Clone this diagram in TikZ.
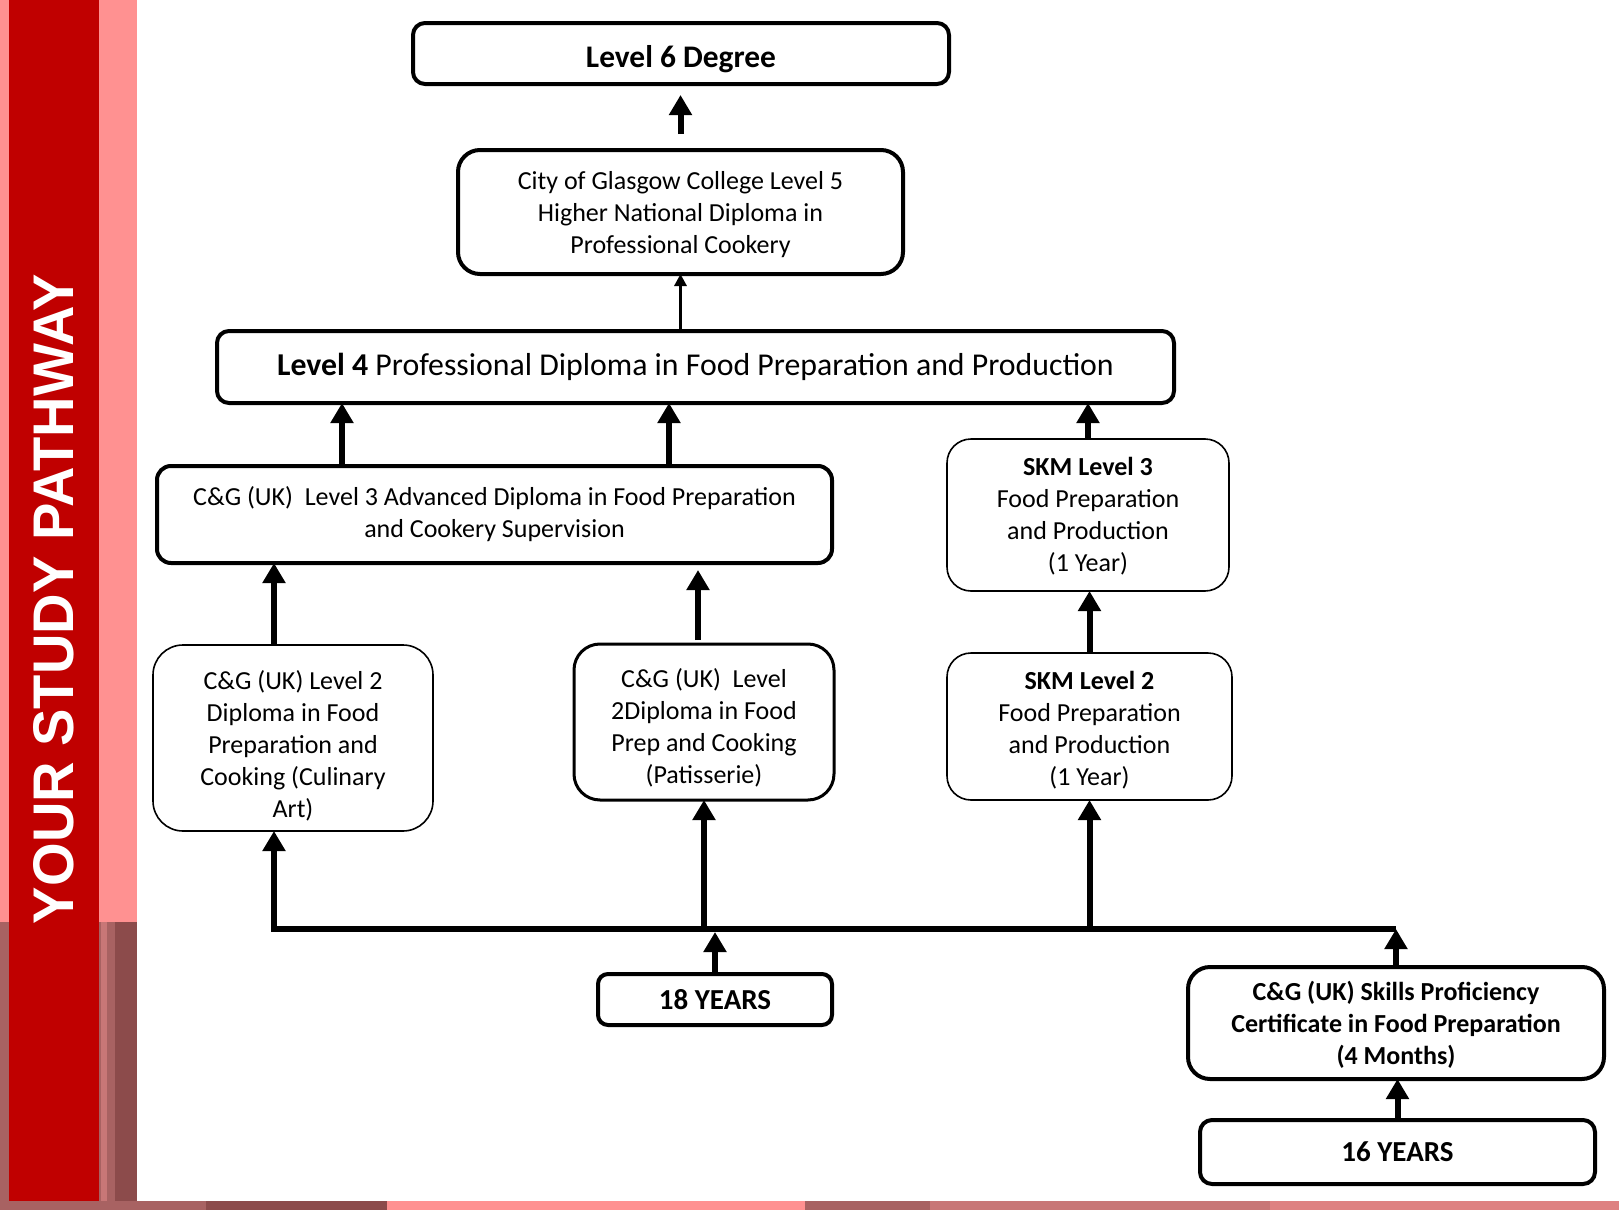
\documentclass[tikz,border=0pt]{standalone}
\usepackage{graphicx}
\usepackage{fontspec}
\setmainfont{Carlito}
\newfontfamily\sidefont{Liberation Sans}
\usetikzlibrary{arrows.meta,calc}
\definecolor{pinkbg}{HTML}{FF9191}
\definecolor{redbar}{HTML}{C00000}
\definecolor{brownA}{HTML}{A86262}
\definecolor{brownB}{HTML}{8C4B4B}
\definecolor{brownC}{HTML}{C87777}
\begin{document}
\begin{tikzpicture}[x=0.5pt,y=-0.5pt,
  tbox/.style={draw=black, line width=2pt, fill=white, inner sep=0pt, outer sep=0pt},
  nbox/.style={tbox, line width=0.8pt},
  txt/.style={inner sep=0pt, align=center, font=\fontsize{13}{16}\selectfont},
  arr/.style={line width=3pt, -{Triangle[width=11pt,length=10pt]}},
  thinarr/.style={line width=1.5pt, -{Triangle[width=6pt,length=6pt]}},
  yearfont/.style={font=\fontsize{14.5}{17}\selectfont\bfseries}
]
\useasboundingbox (0,0) rectangle (1619,1210);
% background
\fill[pinkbg] (0,0) rectangle (1619,1210);
\fill[white] (137,0) rectangle (1619,1201);
\fill[brownA] (0,922) rectangle (9,1210);
\fill[brownA] (99,922) rectangle (137,1210);
\fill[brownC] (101,922) rectangle (107,1201);
\fill[brownB] (115,922) rectangle (137,1201);
\fill[brownA] (0,1201) rectangle (206,1210);
\fill[brownB] (206,1201) rectangle (387,1210);
\fill[brownA] (805,1201) rectangle (930,1210);
\fill[brownC] (930,1201) rectangle (1270,1210);
\fill[brownC!60!pinkbg] (1270,1201) rectangle (1619,1210);
\fill[redbar] (9,0) rectangle (99,1201);
\node[rotate=90, text=white, inner sep=0pt] (side) at (54,599)
  {\resizebox{325pt}{20pt}{\sidefont\bfseries YOUR STUDY PATHWAY}};

% boxes
\node[tbox, rounded corners=6pt, minimum width=268pt, minimum height=30.5pt] (L6) at (681,53.5) {};
\node[txt, font=\fontsize{15.7}{19}\selectfont\bfseries] (L6t) at ([yshift=-3pt]L6.center) {Level 6 Degree};

\node[tbox, rounded corners=11pt, minimum width=222.5pt, minimum height=62pt] (L5) at (680.5,212) {};
\node[txt] (L5t) at ([yshift=-1.5pt]L5.center)
  {City of Glasgow College Level 5\\Higher National Diploma in\\Professional Cookery};

\node[tbox, rounded corners=6pt, minimum width=478.5pt, minimum height=36pt] (L4) at (695.5,367) {};
\node[txt, font=\fontsize{15.9}{19}\selectfont] (L4t) at (L4.center)
  {\textbf{Level 4} Professional Diploma in Food Preparation and Production};

\node[tbox, rounded corners=7pt, minimum width=337.5pt, minimum height=48.5pt] (L3) at (494.5,514.5) {};
\node[txt] (L3t) at (L3.center)
  {C\&G (UK)\ \ Level 3 Advanced Diploma in Food Preparation\\and Cookery Supervision};

\node[nbox, rounded corners=12pt, minimum width=141pt, minimum height=76pt] (SKM3) at (1088,515) {};
\node[txt] (SKM3t) at ([yshift=-0.5pt]SKM3.center)
  {\textbf{SKM Level 3}\\Food Preparation\\and Production\\(1 Year)};

\node[nbox, rounded corners=15pt, minimum width=140pt, minimum height=93pt] (Cul) at (293,738) {};
\node[txt] (Cult) at ([yshift=-4pt]Cul.center)
  {C\&G (UK) Level 2\\Diploma in Food\\Preparation and\\Cooking (Culinary\\Art)};

\node[tbox, line width=1.5pt, rounded corners=13pt, minimum width=130pt, minimum height=78pt] (Pat) at (704,722) {};
\node[txt] (Patt) at ([yshift=-3pt]Pat.center)
  {C\&G (UK)\ \ Level\\2Diploma in Food\\Prep and Cooking\\(Patisserie)};

\node[nbox, rounded corners=12pt, minimum width=142.5pt, minimum height=73.5pt] (SKM2) at (1089.5,726.5) {};
\node[txt] (SKM2t) at ([yshift=-2pt]SKM2.center)
  {\textbf{SKM Level 2}\\Food Preparation\\and Production\\(1 Year)};

\node[tbox, rounded corners=5pt, minimum width=117pt, minimum height=25.5pt] (Y18) at (715,999.5) {};
\node[txt, yearfont] (Y18t) at (Y18.center) {18 YEARS};

\node[tbox, rounded corners=11pt, minimum width=208pt, minimum height=56pt] (Skills) at (1396,1023) {};
\node[txt, font=\fontsize{13}{16}\selectfont\bfseries] (Skillst) at ([yshift=-1pt]Skills.center)
  {C\&G (UK) Skills Proficiency\\Certificate in Food Preparation\\(4 Months)};

\node[tbox, rounded corners=6pt, minimum width=197.5pt, minimum height=32pt] (Y16) at (1397.5,1152) {};
\node[txt, yearfont] (Y16t) at (Y16.center) {16 YEARS};

% connectors
\draw[arr, shorten <=8pt, shorten >=5.5pt] (L5.north) -- (L5.north |- L6.south);
\draw[thinarr] (L5.south |- L4.north) -- (L5.south);
\draw[arr] ([xshift=92.5pt]L3.north west) -- ([xshift=92.5pt]L3.north west |- L4.south);
\draw[arr] ([xshift=256pt]L3.north west) -- ([xshift=256pt]L3.north west |- L4.south);
\draw[arr] (SKM3.north) -- (SKM3.north |- L4.south);
\draw[arr] ([xshift=-9.5pt]Cul.north) -- ([xshift=-9.5pt]Cul.north |- L3.south);
\draw[arr, shorten <=2pt, shorten >=3.5pt] ([xshift=-3pt]Pat.north) -- ([xshift=-3pt]Pat.north |- L3.south);
\draw[arr] (SKM2.north) -- (SKM2.north |- SKM3.south);

\coordinate (busL) at (274,929);
\coordinate (busR) at (1396,929);
\draw[arr, line join=miter] (busR) -- (busL) -- (busL |- Cul.south);
\draw[arr] (Pat.south |- busL) -- (Pat.south);
\draw[arr] (SKM2.south |- busL) -- (SKM2.south);
\draw[arr, shorten >=1.5pt] (Y18.north) -- (Y18.north |- busL);
\draw[arr] (Skills.north) -- (Skills.north |- busR);
\draw[arr] (Y16.north) -- (Y16.north |- Skills.south);
\end{tikzpicture}
\end{document}
